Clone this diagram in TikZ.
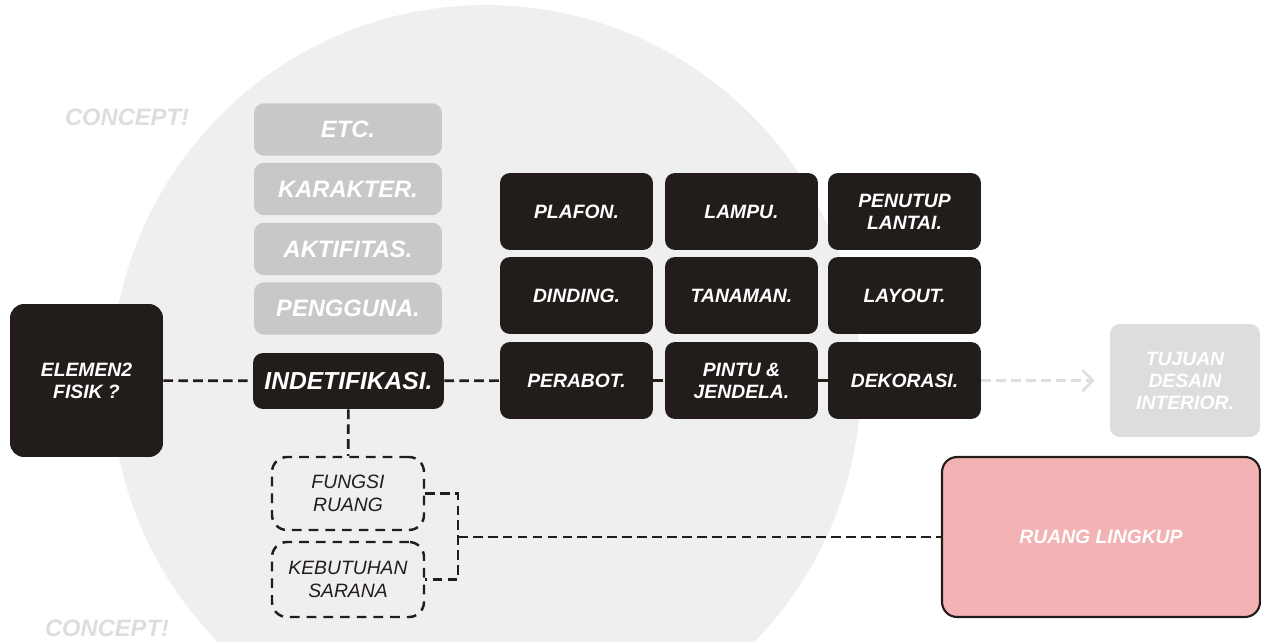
\documentclass[tikz,border=0pt]{standalone}
\usepackage{fontspec}
\setmainfont{Liberation Sans}
\usepackage{xcolor}
\usetikzlibrary{arrows.meta,positioning,calc}
\definecolor{darkbox}{HTML}{221C1B}
\definecolor{greybox}{HTML}{C8C8C8}
\definecolor{circlegrey}{HTML}{EEEFEE}
\definecolor{palegrey}{HTML}{DCDDDC}
\definecolor{pinkbox}{HTML}{F3B2B3}
\newcommand{\bfit}[2]{\fontsize{#1}{#2}\selectfont\bfseries\itshape}

\begin{document}
\begin{tikzpicture}[x=0.02cm, y=-0.02cm,
  darknode/.style={fill=darkbox, rounded corners=0.2cm, text=white, align=center,
    font=\bfit{11}{12.5}, minimum width=3.06cm, minimum height=1.54cm, inner sep=0pt},
  greynode/.style={fill=greybox, rounded corners=0.2cm, text=white,
    font=\bfit{13.5}{15}, minimum width=3.76cm, minimum height=1.05cm, inner sep=0pt},
  dashnode/.style={draw=darkbox, line width=1.4pt, dash pattern=on 5.5pt off 4pt,
    rounded corners=0.3cm, align=center, text=darkbox,
    font=\fontsize{11}{13}\selectfont\itshape, minimum width=3.04cm, inner sep=0pt},
  dashline/.style={draw=darkbox, line width=1.5pt, dash pattern=on 5.5pt off 3pt},
  concept/.style={text=palegrey, font=\bfit{13.5}{15}}]
  \useasboundingbox (0,0) rectangle (1261,642);
  \begin{scope}
    \clip (0,0) rectangle (1261,642);
    \fill[circlegrey] (486,380) circle (7.5cm);
  \end{scope}

  \node[concept] (concepttop) at (127,117) {CONCEPT!};
  \node[concept] (conceptbot) at (107,628) {CONCEPT!};

  % left column
  \node[darknode, minimum width=3.06cm, minimum height=3.06cm, rounded corners=0.28cm] (elemen) at (86.5,380.5) {ELEMEN2\\FISIK ?};
  \node[darknode, font=\bfit{14}{16}, minimum width=3.82cm, minimum height=1.12cm] (ident) at (348.5,381) {INDETIFIKASI.};
  \node[greynode] (pengguna) at (348,308.5) {PENGGUNA.};
  \node[greynode] (aktif) at (348,249) {AKTIFITAS.};
  \node[greynode] (karakter) at (348,189) {KARAKTER.};
  \node[greynode] (etc) at (348,129.5) {ETC.};

  % grid of elements
  \node[darknode] (plafon) at (576.5,211.5) {PLAFON.};
  \node[darknode] (lampu) at (741.5,211.5) {LAMPU.};
  \node[darknode] (penutup) at (904.5,211.5) {PENUTUP\\LANTAI.};
  \node[darknode] (dinding) at (576.5,295.5) {DINDING.};
  \node[darknode] (tanaman) at (741.5,295.5) {TANAMAN.};
  \node[darknode] (layout) at (904.5,295.5) {LAYOUT.};
  \node[darknode] (perabot) at (576.5,380.5) {PERABOT.};
  \node[darknode] (pintu) at (741.5,380.5) {PINTU \&\\JENDELA.};
  \node[darknode] (dekorasi) at (904.5,380.5) {DEKORASI.};

  \node[darknode, fill=palegrey, minimum width=3.0cm, minimum height=2.26cm] (tujuan) at (1185,380.5) {TUJUAN\\DESAIN\\INTERIOR.};
  \node[darknode, fill=pinkbox, draw=darkbox, line width=1.2pt, rounded corners=0.3cm,
    minimum width=6.36cm, minimum height=3.2cm] (ruang) at (1101,537) {RUANG LINGKUP};

  \node[dashnode, minimum height=1.46cm] (fungsi) at (348,493.5) {FUNGSI\\RUANG};
  \node[dashnode, minimum height=1.5cm] (sarana) at (348,579.5) {KEBUTUHAN\\SARANA};

  % connectors
  \draw[dashline] (elemen) -- (ident);
  \draw[dashline] (ident) -- (perabot);
  \draw[dashline] (perabot) -- (pintu);
  \draw[dashline] (pintu) -- (dekorasi);
  \draw[draw=palegrey, line width=1.4pt, dash pattern=on 5.5pt off 3pt,
    -{Straight Barb[length=6pt,width=12pt]}, shorten >=0.3cm] (dekorasi) -- (tujuan);
  \draw[dashline] (ident) -- (fungsi);
  \coordinate (junc) at (458,537);
  \draw[dashline] (fungsi.east) -| (junc) |- (sarana.east);
  \draw[dashline] (junc) -- (ruang.west);
\end{tikzpicture}
\end{document}
